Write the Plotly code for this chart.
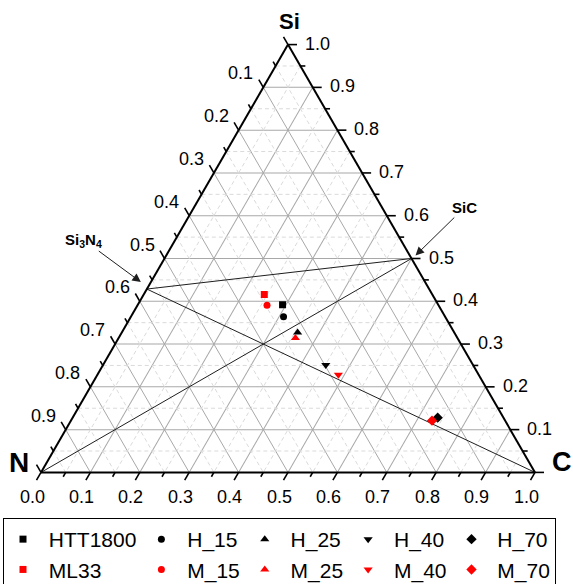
import math
import plotly.graph_objects as go

# Sample compositions (atomic fractions) in the Si-N-C system
names = ["HTT1800", "H_15", "H_25", "H_40", "H_70",
         "ML33", "M_15", "M_25", "M_40", "M_70"]
si_frac = [0.392, 0.364, 0.327, 0.251, 0.128,
           0.416, 0.391, 0.314, 0.228, 0.121]
c_frac = [0.293, 0.309, 0.356, 0.451, 0.739,
          0.244, 0.262, 0.358, 0.488, 0.731]
n_frac = [round(1 - s - c, 3) for s, c in zip(si_frac, c_frac)]
symbols = ["square", "circle", "triangle-up", "triangle-down", "diamond"] * 2
sizes = [7, 7, 8, 8, 8] * 2
colors = ["black"] * 5 + ["red"] * 5

# Reference phases: Si3N4 and SiC, plus the N and C corners
phase_si = {"Si3N4": 3 / 7, "SiC": 0.5, "N": 0.0, "C": 0.0}
phase_n = {"Si3N4": 4 / 7, "SiC": 0.0, "N": 1.0, "C": 0.0}
phase_c = {"Si3N4": 0.0, "SiC": 0.5, "N": 0.0, "C": 1.0}
tie_lines = [("Si3N4", "SiC"), ("Si3N4", "C"), ("SiC", "N")]

# axis tick values (0.1 major, 0.05 minor)
major = [round(0.1 * i, 1) for i in range(11)]
minor = [round(0.05 + 0.1 * i, 2) for i in range(10)]
left_labels = major[1:10]     # N fraction, left edge
right_labels = major[1:11]    # Si fraction, right edge
bottom_labels = major         # C fraction, bottom edge

FONT = "Arial, Liberation Sans, sans-serif"
FIG_W, FIG_H = 573, 584
MARGIN = dict(l=41, r=5, t=20, b=87)
plot_w = FIG_W - MARGIN["l"] - MARGIN["r"]
plot_h = FIG_H - MARGIN["t"] - MARGIN["b"]
TRI_W = 494.0                       # triangle width in px
dom_x = [0, TRI_W / plot_w]

# triangle placement, following plotly's ternary layout rule
tri_w = min(TRI_W, plot_h * 2 / math.sqrt(3))
tri_h = tri_w * math.sqrt(3) / 2
tri_x0 = MARGIN["l"] + plot_w * (dom_x[0] + dom_x[1]) / 2 - tri_w / 2
tri_top = MARGIN["t"] + plot_h / 2 - tri_h / 2

MAJOR_LEN, MINOR_LEN = 9, 5
TICK_FONT = 18


def ternary_px(a, b, c):
    """Pixel position of a composition (a=Si, b=N, c=C)."""
    return tri_x0 + tri_w * (c + a / 2), tri_top + tri_h * (1 - a)


def px_to_paper(x, y):
    return (x - MARGIN["l"]) / plot_w, (FIG_H - MARGIN["b"] - y) / plot_h


fig = go.Figure()

# dashed minor grid at the half steps
for k in minor:
    for a, b, c in [
        ([k, k], [1 - k, 0], [0, 1 - k]),
        ([1 - k, 0], [k, k], [0, 1 - k]),
        ([1 - k, 0], [0, 1 - k], [k, k]),
    ]:
        fig.add_trace(go.Scatterternary(
            a=a, b=b, c=c, mode="lines", showlegend=False, hoverinfo="skip",
            line=dict(color="#dadada", width=1, dash="4px,3px")))

# tie lines between phases
for p, q in tie_lines:
    fig.add_trace(go.Scatterternary(
        a=[phase_si[p], phase_si[q]], b=[phase_n[p], phase_n[q]],
        c=[phase_c[p], phase_c[q]], mode="lines", showlegend=False,
        hoverinfo="skip", line=dict(color="#1e1e1e", width=1)))

# samples, paired so that the legend forms columns
for i in range(5):
    for j in (i, i + 5):
        fig.add_trace(go.Scatterternary(
            a=[si_frac[j]], b=[n_frac[j]], c=[c_frac[j]], mode="markers",
            name="\u00a0" + names[j], legendgroup="g%d" % i,
            marker=dict(symbol=symbols[j], color=colors[j], size=sizes[j],
                        line=dict(width=0))))

# edge ticks run along the grid direction of the component they measure
edges = {
    "right": (lambda v: (v, 0, 1 - v), (1.0, 0.0)),
    "left": (lambda v: (1 - v, v, 0), (-0.5, -math.sqrt(3) / 2)),
    "bottom": (lambda v: (0, 1 - v, v), (-0.5, math.sqrt(3) / 2)),
}
shapes = []
for side, (point, (ux, uy)) in edges.items():
    for v in sorted(major + minor):
        L = MAJOR_LEN if v in major else MINOR_LEN
        x1, y1 = ternary_px(*point(v))
        p0 = px_to_paper(x1, y1)
        p1 = px_to_paper(x1 + ux * L, y1 + uy * L)
        shapes.append(dict(type="line", xref="paper", yref="paper",
                           x0=p0[0], y0=p0[1], x1=p1[0], y1=p1[1],
                           line=dict(color="black", width=1.6)))

annotations = []
label_specs = [
    ("right", right_labels, (15, -1), "left"),
    ("left", left_labels, (-8, -14), "right"),
    ("bottom", bottom_labels, (-9, 25), "center"),
]
for side, vals, (dx, dy), anchor in label_specs:
    point = edges[side][0]
    for v in vals:
        x1, y1 = ternary_px(*point(v))
        px, py = px_to_paper(x1 + dx, y1 + dy)
        annotations.append(dict(
            text="%.1f" % v, x=px, y=py, xref="paper", yref="paper",
            xanchor=anchor, yanchor="middle", showarrow=False,
            font=dict(family=FONT, size=TICK_FONT, color="black")))

# corner titles
for text, x, y, size in [("Si", 289, 21, 22), ("N", 19, 462, 28),
                         ("C", 562, 462, 27)]:
    px, py = px_to_paper(x, y)
    annotations.append(dict(
        text="<b>%s</b>" % text, x=px, y=py, xref="paper", yref="paper",
        xanchor="center", yanchor="middle", showarrow=False,
        font=dict(family=FONT, size=size, color="black")))

# phase labels with arrows pointing at the phase compositions
for label, phase, (ox, oy), (ax, ay) in [
    ("<b>Si<sub>3</sub>N<sub>4</sub></b>", "Si3N4", (-6, -7), (-57, -42)),
    ("<b>SiC</b>", "SiC", (4, -3), (49, -48)),
]:
    x1, y1 = ternary_px(phase_si[phase], phase_n[phase], phase_c[phase])
    px, py = px_to_paper(x1 + ox, y1 + oy)
    annotations.append(dict(
        text=label, x=px, y=py, xref="paper", yref="paper", ax=ax, ay=ay,
        showarrow=True, arrowhead=2, arrowsize=1.7, arrowwidth=1,
        arrowcolor="#1e1e1e", font=dict(family=FONT, size=15, color="black")))

axis_common = dict(
    showline=True, linecolor="black", linewidth=2,
    showgrid=True, gridcolor="#a8a8a8", gridwidth=1,
    ticks="", showticklabels=False,
    tickmode="array", tickvals=major, title=dict(text=""), min=0,
)

fig.update_layout(
    width=FIG_W, height=FIG_H,
    paper_bgcolor="white", plot_bgcolor="white",
    margin=dict(MARGIN, autoexpand=False),
    font=dict(family=FONT, color="black"),
    ternary=dict(
        sum=1, bgcolor="white",
        domain=dict(x=dom_x, y=[0, 1]),
        aaxis=axis_common, baxis=axis_common, caxis=axis_common,
    ),
    showlegend=True,
    legend=dict(
        orientation="h", traceorder="grouped",
        x=-0.0721, y=-0.044, xanchor="left", yanchor="top",
        bgcolor="white", bordercolor="black", borderwidth=1,
        font=dict(family=FONT, size=21, color="black"),
        tracegroupgap=0,
    ),
    shapes=shapes,
    annotations=annotations,
)

fig.write_html("out.html")
